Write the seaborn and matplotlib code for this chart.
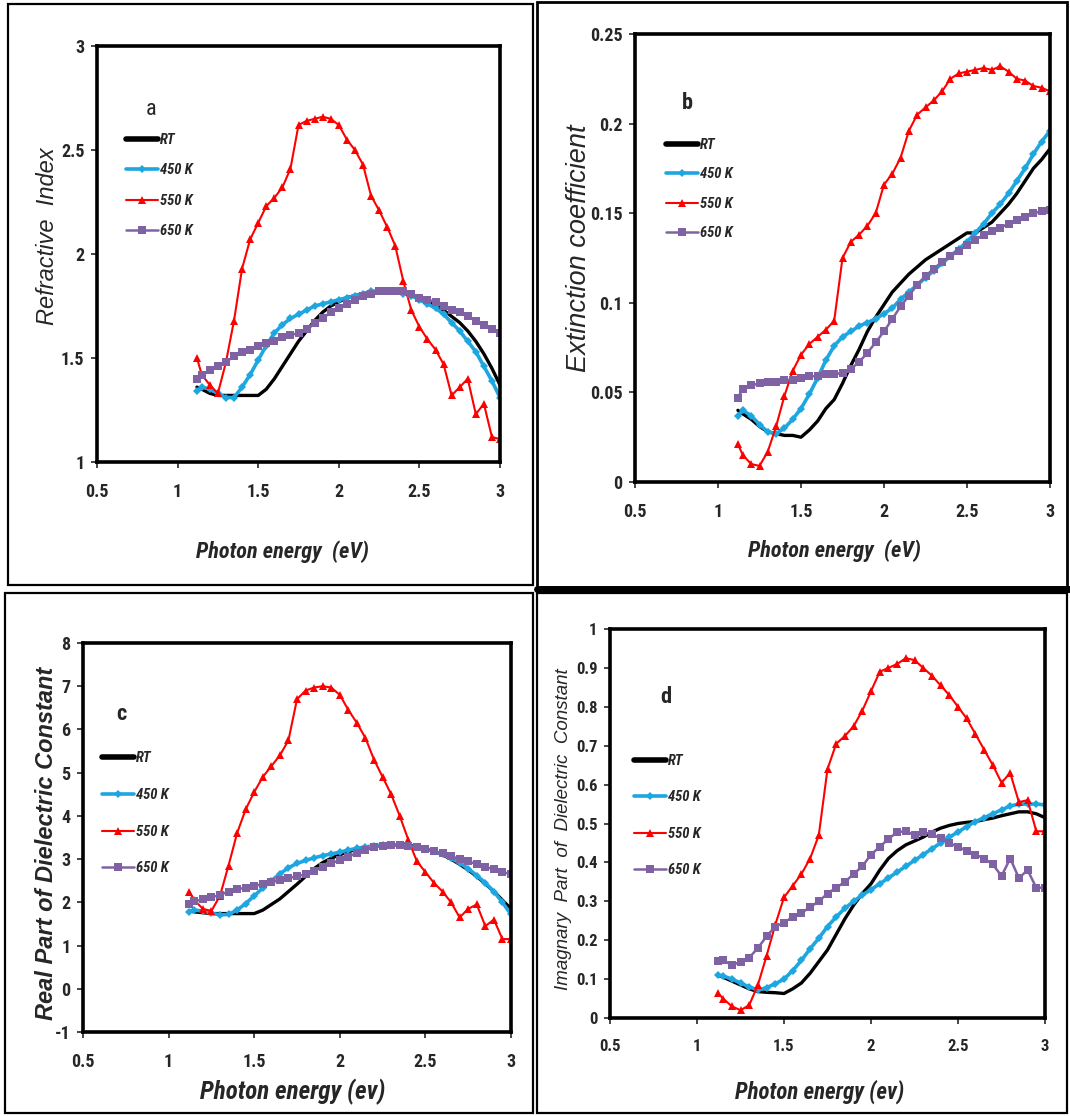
import numpy as np
import pandas as pd
import matplotlib
matplotlib.use("Agg")
import matplotlib.pyplot as plt
import matplotlib.font_manager as fm
from matplotlib.patches import Rectangle
from matplotlib.lines import Line2D
from matplotlib.ticker import FuncFormatter
import seaborn as sns

# ---------------- data ----------------
energy = [1.12, 1.15, 1.20, 1.25, 1.30, 1.35, 1.40, 1.45, 1.50, 1.55,
          1.60, 1.65, 1.70, 1.75, 1.80, 1.85, 1.90, 1.95, 2.00, 2.05,
          2.10, 2.15, 2.20, 2.25, 2.30, 2.35, 2.40, 2.45, 2.50, 2.55,
          2.60, 2.65, 2.70, 2.75, 2.80, 2.85, 2.90, 2.95, 3.00]

labels = ["RT", "450 K", "550 K", "650 K"]

# (a) refractive index
n_rt = [1.36, 1.35, 1.33, 1.32, 1.32, 1.32, 1.32, 1.32, 1.32, 1.35,
        1.40, 1.46, 1.52, 1.58, 1.63, 1.68, 1.72, 1.75, 1.77, 1.79,
        1.80, 1.81, 1.82, 1.82, 1.82, 1.82, 1.81, 1.80, 1.79, 1.77,
        1.75, 1.73, 1.70, 1.67, 1.63, 1.58, 1.52, 1.45, 1.37]
n_450 = [1.34, 1.36, 1.35, 1.33, 1.31, 1.31, 1.36, 1.42, 1.49, 1.56,
         1.62, 1.66, 1.69, 1.71, 1.73, 1.75, 1.76, 1.77, 1.78, 1.79,
         1.80, 1.81, 1.82, 1.82, 1.82, 1.82, 1.81, 1.80, 1.78, 1.76,
         1.74, 1.71, 1.67, 1.63, 1.58, 1.53, 1.46, 1.39, 1.31]
n_550 = [1.50, 1.42, 1.37, 1.33, 1.48, 1.68, 1.93, 2.07, 2.15, 2.23,
         2.27, 2.32, 2.41, 2.62, 2.64, 2.65, 2.66, 2.65, 2.62, 2.55,
         2.50, 2.43, 2.28, 2.21, 2.13, 2.04, 1.87, 1.73, 1.65, 1.59,
         1.54, 1.47, 1.32, 1.36, 1.40, 1.23, 1.28, 1.12, 1.11]
n_650 = [1.40, 1.42, 1.44, 1.46, 1.48, 1.51, 1.53, 1.54, 1.56, 1.57,
         1.58, 1.60, 1.61, 1.62, 1.64, 1.67, 1.69, 1.72, 1.74, 1.76,
         1.78, 1.80, 1.81, 1.82, 1.82, 1.82, 1.82, 1.81, 1.79, 1.78,
         1.77, 1.75, 1.73, 1.72, 1.70, 1.68, 1.66, 1.64, 1.62]

# (b) extinction coefficient
k_rt = [0.040, 0.038, 0.035, 0.031, 0.028, 0.027, 0.026, 0.026, 0.025, 0.029,
        0.034, 0.041, 0.046, 0.055, 0.065, 0.074, 0.084, 0.092, 0.099, 0.106,
        0.111, 0.116, 0.120, 0.124, 0.127, 0.130, 0.133, 0.136, 0.139, 0.139,
        0.142, 0.145, 0.150, 0.155, 0.161, 0.168, 0.175, 0.180, 0.186]
k_450 = [0.037, 0.040, 0.037, 0.032, 0.028, 0.027, 0.030, 0.035, 0.041, 0.049,
         0.058, 0.068, 0.076, 0.081, 0.084, 0.087, 0.089, 0.091, 0.094, 0.097,
         0.102, 0.106, 0.110, 0.114, 0.118, 0.122, 0.126, 0.130, 0.134, 0.139,
         0.144, 0.150, 0.155, 0.161, 0.168, 0.175, 0.183, 0.190, 0.196]
k_550 = [0.021, 0.015, 0.010, 0.009, 0.017, 0.031, 0.048, 0.062, 0.071, 0.077,
         0.081, 0.085, 0.090, 0.125, 0.134, 0.138, 0.143, 0.150, 0.166, 0.172,
         0.181, 0.196, 0.205, 0.209, 0.213, 0.218, 0.225, 0.228, 0.229, 0.230,
         0.231, 0.230, 0.232, 0.229, 0.225, 0.224, 0.221, 0.220, 0.218]
k_650 = [0.047, 0.052, 0.054, 0.055, 0.056, 0.056, 0.057, 0.057, 0.058, 0.059,
         0.059, 0.060, 0.060, 0.061, 0.063, 0.067, 0.072, 0.078, 0.084, 0.091,
         0.098, 0.104, 0.110, 0.115, 0.119, 0.123, 0.126, 0.129, 0.132, 0.135,
         0.138, 0.140, 0.142, 0.144, 0.146, 0.148, 0.150, 0.151, 0.152]

# (c) real part of dielectric constant
e1_rt = [1.80, 1.78, 1.76, 1.74, 1.74, 1.74, 1.74, 1.74, 1.74, 1.82,
         1.95, 2.08, 2.25, 2.42, 2.60, 2.78, 2.92, 3.02, 3.10, 3.17,
         3.23, 3.28, 3.30, 3.32, 3.33, 3.33, 3.32, 3.30, 3.25, 3.18,
         3.10, 3.00, 2.88, 2.75, 2.60, 2.43, 2.25, 2.05, 1.85]
e1_450 = [1.78, 1.82, 1.80, 1.75, 1.71, 1.72, 1.82, 1.97, 2.15, 2.33,
          2.50, 2.66, 2.80, 2.90, 2.97, 3.03, 3.08, 3.12, 3.16, 3.21,
          3.25, 3.28, 3.31, 3.33, 3.33, 3.33, 3.31, 3.28, 3.24, 3.18,
          3.11, 3.02, 2.91, 2.78, 2.62, 2.45, 2.25, 2.00, 1.72]
e1_550 = [2.25, 2.05, 1.85, 1.80, 2.15, 2.85, 3.60, 4.15, 4.55, 4.90,
          5.15, 5.40, 5.75, 6.70, 6.90, 6.97, 7.00, 6.97, 6.80, 6.45,
          6.15, 5.80, 5.30, 4.90, 4.50, 4.00, 3.45, 2.95, 2.70, 2.45,
          2.25, 2.00, 1.65, 1.85, 1.95, 1.45, 1.60, 1.15, 1.15]
e1_650 = [1.95, 2.02, 2.07, 2.12, 2.17, 2.25, 2.30, 2.34, 2.38, 2.42,
          2.46, 2.52, 2.56, 2.60, 2.65, 2.73, 2.81, 2.90, 2.98, 3.06,
          3.14, 3.21, 3.27, 3.31, 3.33, 3.33, 3.31, 3.28, 3.24, 3.19,
          3.13, 3.07, 3.00, 2.95, 2.88, 2.82, 2.76, 2.70, 2.65]

# (d) imaginary part of dielectric constant
e2_rt = [0.110, 0.105, 0.095, 0.085, 0.075, 0.068, 0.066, 0.065, 0.063, 0.075,
         0.090, 0.115, 0.145, 0.175, 0.215, 0.255, 0.290, 0.320, 0.345, 0.380,
         0.410, 0.430, 0.445, 0.455, 0.465, 0.478, 0.488, 0.495, 0.500, 0.503,
         0.505, 0.510, 0.514, 0.520, 0.525, 0.530, 0.530, 0.525, 0.515]
e2_450 = [0.110, 0.108, 0.100, 0.090, 0.080, 0.072, 0.078, 0.088, 0.100, 0.122,
          0.148, 0.178, 0.205, 0.235, 0.260, 0.282, 0.300, 0.316, 0.330, 0.345,
          0.360, 0.375, 0.390, 0.405, 0.420, 0.435, 0.450, 0.465, 0.478, 0.492,
          0.505, 0.515, 0.525, 0.535, 0.545, 0.550, 0.550, 0.550, 0.548]
e2_550 = [0.064, 0.050, 0.030, 0.020, 0.033, 0.085, 0.160, 0.240, 0.310, 0.340,
          0.370, 0.410, 0.470, 0.640, 0.705, 0.725, 0.750, 0.790, 0.840, 0.890,
          0.900, 0.910, 0.925, 0.920, 0.900, 0.880, 0.855, 0.830, 0.800, 0.770,
          0.730, 0.690, 0.650, 0.605, 0.630, 0.555, 0.560, 0.480, 0.480]
e2_650 = [0.146, 0.150, 0.135, 0.145, 0.155, 0.180, 0.210, 0.235, 0.245, 0.260,
          0.270, 0.285, 0.300, 0.320, 0.335, 0.350, 0.370, 0.390, 0.420, 0.440,
          0.460, 0.478, 0.480, 0.470, 0.478, 0.472, 0.462, 0.450, 0.440, 0.430,
          0.420, 0.410, 0.395, 0.365, 0.410, 0.360, 0.380, 0.335, 0.335]

# ---------------- fonts ----------------
sns.set_style("ticks")
plt.rcParams["font.family"] = ["Liberation Sans", "DejaVu Sans"]


def _w(f):
    try:
        return int(f.weight)
    except (TypeError, ValueError):
        return 700 if "bold" in str(f.weight).lower() else 400


def pick_narrow(candidates):
    """First condensed family that has static bold upright and bold italic faces."""
    for name in candidates:
        faces = [f for f in fm.fontManager.ttflist
                 if f.name == name and "wght" not in f.fname]
        has_b = any(f.style == "normal" and _w(f) >= 700 for f in faces)
        has_bi = any(f.style in ("italic", "oblique") and _w(f) >= 700 for f in faces)
        if has_b and has_bi:
            return name
    return "Liberation Sans"


NARROW = pick_narrow(["Liberation Sans Narrow", "Arial Narrow", "Nimbus Sans Narrow",
                      "Roboto Condensed", "PT Sans Narrow", "Open Sans Condensed",
                      "Barlow Semi Condensed", "Asap Condensed"])

# ---------------- figure ----------------
W, H = 1070, 1116
fig = plt.figure(figsize=(W / 100, H / 100), dpi=100)
fig.patch.set_facecolor("white")


def fx(px):
    return px / W


def fy(py):
    return 1 - py / H


def axes_px(x0, y0, x1, y1):
    return fig.add_axes([fx(x0), fy(y1), fx(x1 - x0), (y1 - y0) / H])


styles = {
    "RT":    dict(color="black",   lw=2.4, marker=None, ms=0),
    "450 K": dict(color="#1DA6E0", lw=2.6, marker="D",  ms=4.0),
    "550 K": dict(color="#FF0000", lw=1.5, marker="^",  ms=5.6),
    "650 K": dict(color="#7F62A3", lw=1.8, marker="s",  ms=5.8),
}

panels = [
    dict(key="a", box=(97, 46, 500, 462), series=[n_rt, n_450, n_550, n_650],
         ylim=(1, 3), yticks=[1, 1.5, 2, 2.5, 3], tsize=13,
         letter=(151, 109), leg=(126, 142), legsp=33),
    dict(key="b", box=(635, 34, 1050, 482), series=[k_rt, k_450, k_550, k_650],
         ylim=(0, 0.25), yticks=[0, 0.05, 0.1, 0.15, 0.2, 0.25], tsize=13,
         letter=(687, 103), leg=(666, 147), legsp=32),
    dict(key="c", box=(83, 643, 511, 1032), series=[e1_rt, e1_450, e1_550, e1_650],
         ylim=(-1, 8), yticks=list(range(-1, 9)), tsize=13,
         letter=(121, 714), leg=(102, 760), legsp=39.5),
    dict(key="d", box=(610, 629, 1045, 1018), series=[e2_rt, e2_450, e2_550, e2_650],
         ylim=(0, 1), yticks=[0, 0.1, 0.2, 0.3, 0.4, 0.5, 0.6, 0.7, 0.8, 0.9, 1], tsize=12,
         letter=(666, 697), leg=(634, 763), legsp=39),
]

fmt = FuncFormatter(lambda v, pos: f"{v:g}")

for p in panels:
    ax = axes_px(*p["box"])
    for lab, vals in zip(labels, p["series"]):
        st = styles[lab]
        df = pd.DataFrame({"E": energy, "v": vals})
        kw = dict(color=st["color"], lw=st["lw"])
        if st["marker"]:
            kw.update(marker=st["marker"], markersize=st["ms"], markeredgewidth=0)
        sns.lineplot(data=df, x="E", y="v", ax=ax, legend=False, **kw)
    ax.set_xlim(0.5, 3)
    ax.set_ylim(*p["ylim"])
    ax.set_xticks([0.5, 1, 1.5, 2, 2.5, 3])
    ax.set_yticks(p["yticks"])
    ax.xaxis.set_major_formatter(fmt)
    ax.yaxis.set_major_formatter(fmt)
    ax.set_xlabel("")
    ax.set_ylabel("")
    for s in ax.spines.values():
        s.set_linewidth(2.6)
        s.set_color("black")
    ax.tick_params(direction="out", length=4, width=1.2)
    ax.tick_params(axis="x", pad=11)
    ax.tick_params(axis="y", pad=5)
    for t in ax.get_xticklabels() + ax.get_yticklabels():
        t.set_fontfamily(NARROW)
        t.set_fontweight("bold")
        t.set_fontsize(p["tsize"])

    # panel letter
    lx, ly = p["letter"]
    fig.text(fx(lx), fy(ly), p["key"], family=NARROW, fontsize=16,
             fontweight="normal" if p["key"] == "a" else "bold",
             ha="center", va="center")

    # legend
    handles = []
    for lab in labels:
        st = styles[lab]
        handles.append(Line2D([], [], color=st["color"],
                              lw=4.0 if lab == "RT" else st["lw"],
                              marker=st["marker"] if st["marker"] else None,
                              markersize=st["ms"], markeredgewidth=0))
    lgx, lgy = p["leg"]
    fs = 10.5
    fspx = fs * 100 / 72
    ax.legend(handles, labels, loc="upper left",
              bbox_to_anchor=(fx(lgx), fy(lgy - fspx * 0.6)),
              bbox_transform=fig.transFigure, frameon=False,
              borderpad=0, borderaxespad=0, handlelength=2.2,
              handletextpad=0.15,
              labelspacing=(p["legsp"] - fspx * 1.15) / fspx,
              prop=dict(family=NARROW, style="italic", weight="bold", size=fs))

# axis titles
fig.text(fx(48), fy(236), "Refractive  Index", rotation=90, style="italic",
         fontsize=17, ha="center", va="center")
fig.text(fx(282), fy(552), "Photon energy  (eV)", family=NARROW, style="italic",
         fontweight="bold", fontsize=16, ha="center", va="center")
fig.text(fx(579), fy(248), "Extinction coefficient", rotation=90, style="italic",
         fontsize=19.5, ha="center", va="center")
fig.text(fx(834), fy(551), "Photon energy  (eV)", family=NARROW, style="italic",
         fontweight="bold", fontsize=16, ha="center", va="center")
fig.text(fx(47), fy(843), "Real Part of Dielectric Constant", rotation=90, style="italic",
         fontweight="bold", fontsize=17, ha="center", va="center")
fig.text(fx(293), fy(1092), "Photon energy (ev)", family=NARROW, style="italic",
         fontweight="bold", fontsize=18, ha="center", va="center")
fig.text(fx(564), fy(829), "Imagnary  Part  of  Dielectric  Constant", rotation=90,
         style="italic", fontsize=13.5, ha="center", va="center")
fig.text(fx(820), fy(1092), "Photon energy (ev)", family=NARROW, style="italic",
         fontweight="bold", fontsize=16.5, ha="center", va="center")


# panel frames
def frame(x0, y0, x1, y1, lw=1.6):
    fig.add_artist(Rectangle((fx(x0), fy(y1)), fx(x1 - x0), (y1 - y0) / H,
                             transform=fig.transFigure, fill=False,
                             edgecolor="black", lw=lw))


frame(8, 4, 533, 585)
frame(537, 2, 1067, 589, lw=2.0)
frame(5, 593, 533, 1113)
frame(537, 593, 1067, 1113)
fig.add_artist(Line2D([fx(537), fx(1070)], [fy(589), fy(589)],
                      transform=fig.transFigure, color="black", lw=5))

fig.savefig("out.png", dpi=100, facecolor="white")
